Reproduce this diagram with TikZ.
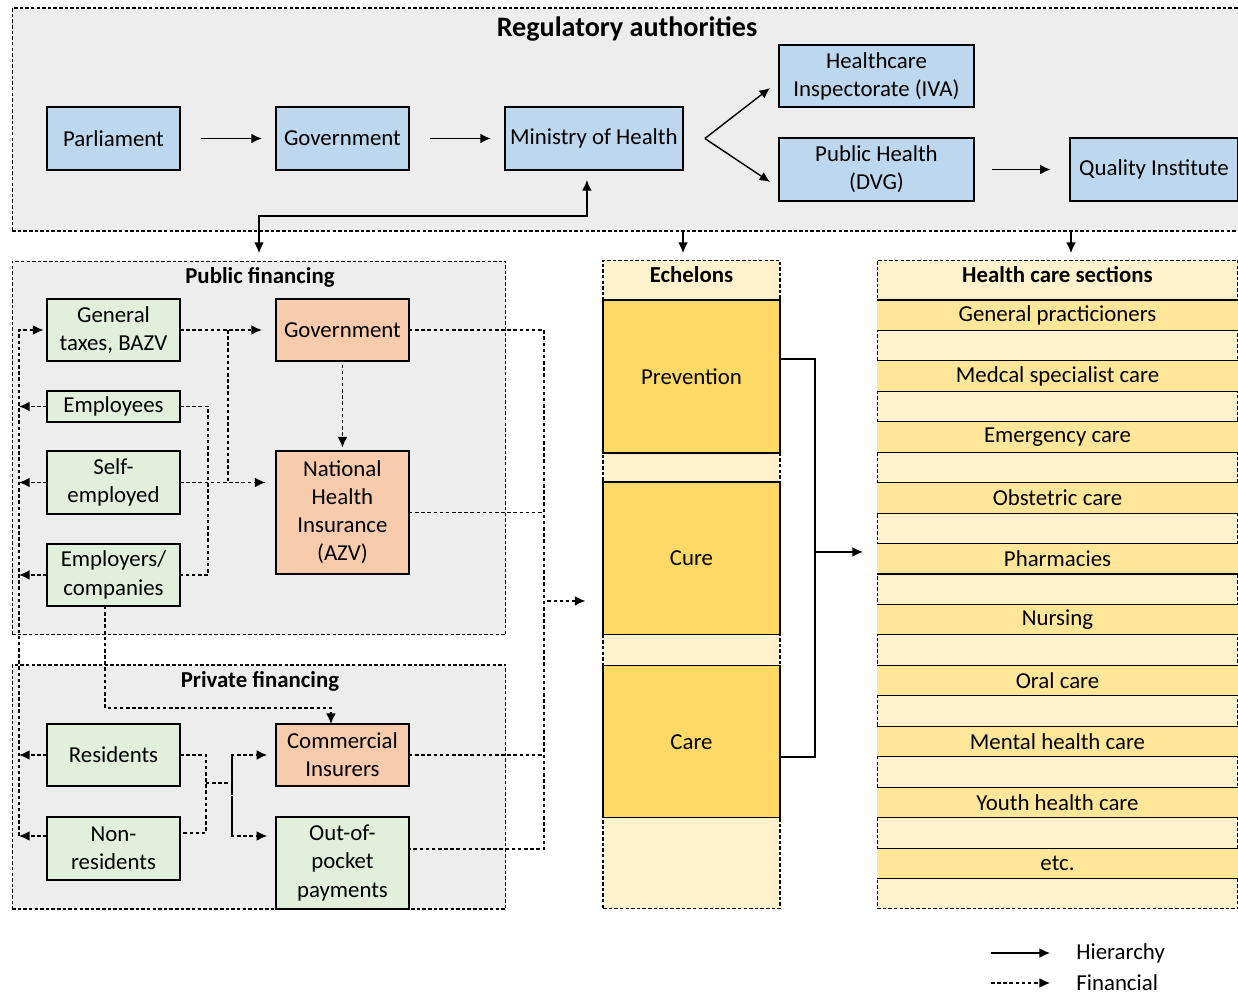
\documentclass[tikz,border=0pt]{standalone}
\usepackage{fontspec}
\setmainfont{Carlito}
\usepackage{xcolor}
\usepackage{tikz}
\usetikzlibrary{arrows.meta, positioning, calc}
\definecolor{regblue}{RGB}{189,215,238}
\definecolor{fundgreen}{RGB}{226,239,218}
\definecolor{payorange}{RGB}{248,203,173}
\definecolor{panelgray}{RGB}{237,237,237}
\definecolor{lightyellow}{RGB}{255,242,204}
\definecolor{darkyellow}{RGB}{255,217,102}
\definecolor{rowyellow}{RGB}{255,230,153}

\begin{document}
\begin{tikzpicture}[
    x=0.02cm, y=-0.02cm,
    font=\fontsize{13}{16}\selectfont,
    box/.style={rectangle, draw, line width=1.4pt, inner sep=0pt, outer sep=0pt, align=center, minimum width=2.66cm, minimum height=1.26cm, fill=regblue},
    panel/.style={rectangle, draw, dash pattern=on 2pt off 1.2pt, line width=0.6pt, inner sep=0pt, outer sep=0pt, fill=panelgray},
    band/.style={rectangle, draw, line width=0.6pt, inner sep=0pt, outer sep=0pt, minimum width=3.54cm, minimum height=3.06cm, fill=darkyellow},
    stripe/.style={rectangle, inner sep=0pt, outer sep=0pt, minimum width=7.22cm, minimum height=0.609cm},
    heading/.style={font=\fontsize{13}{16}\selectfont\bfseries},
    link/.style={line width=0.8pt},
    arrow/.style={link, ->, >={Latex[length=6pt, width=5.5pt]}},
    money/.style={line width=0.75pt, dash pattern=on 2pt off 1.5pt, >={Latex[length=6pt, width=5.5pt]}}
]
    \useasboundingbox (0,0) rectangle (1238,996);

    % Regulatory authorities
    \node[panel, minimum width=24.76cm, minimum height=4.46cm] (reg) at (631,119.5) {};
    \node[heading, font=\fontsize{16}{19}\selectfont\bfseries] (regtitle) at (627,29) {Regulatory authorities};
    \node[box] (parl) at (113.5,138.5) {Parliament};
    \node[box, right=1.92cm of parl] (gov) {Government};
    \node[box, right=1.92cm of gov, minimum width=3.56cm] (moh) {Ministry of Health};
    \node[box, minimum width=3.9cm, minimum height=1.24cm] (iva) at (876.5,76) {Healthcare\\Inspectorate (IVA)};
    \node[box, minimum width=3.9cm] (dvg) at (876.5,169.5) {Public Health\\(DVG)};
    \node[box, minimum width=3.36cm] (qi) at (1154,169.5) {Quality Institute};

    % Public financing
    \node[panel, minimum width=9.88cm, minimum height=7.48cm] (pubfin) at (259,448) {};
    \node[heading] (pubtitle) at (260,277) {Public financing};
    \node[box, fill=fundgreen, minimum height=1.24cm] (tax) at (113.5,330) {General\\taxes, BAZV};
    \node[box, fill=fundgreen, minimum height=0.62cm, below=0.6cm of tax] (empl) {Employees};
    \node[box, fill=fundgreen, below=0.58cm of empl] (self) {Self-\\employed};
    \node[box, fill=fundgreen, minimum height=1.24cm, below=0.6cm of self] (empr) {Employers/\\companies};
    \node[box, fill=payorange, minimum height=1.24cm, right=1.92cm of tax] (pgov) {Government};
    \node[box, fill=payorange, minimum height=2.46cm, below=1.8cm of pgov] (azv) {National\\Health\\Insurance\\(AZV)};

    % Private financing
    \node[panel, minimum width=9.88cm, minimum height=4.88cm] (privfin) at (259,787) {};
    \node[heading] (privtitle) at (260,681) {Private financing};
    \node[box, fill=fundgreen, minimum height=1.24cm] (res) at (113.5,755) {Residents};
    \node[box, fill=fundgreen, below=0.62cm of res] (nonres) {Non-\\residents};
    \node[box, fill=payorange, minimum height=1.24cm, right=1.92cm of res] (comm) {Commercial\\Insurers};
    \node[box, fill=fundgreen, minimum height=1.84cm, below=0.62cm of comm] (oop) {Out-of-\\pocket\\payments};

    % Echelons
    \node[panel, fill=lightyellow, minimum width=3.54cm, minimum height=12.98cm] (ech) at (691.5,584.5) {};
    \node[heading] (echtitle) at (691.5,275) {Echelons};
    \node[band] (prev) at (691.5,376.5) {Prevention};
    \node[band, below=0.58cm of prev] (cure) {Cure};
    \node[band, below=0.62cm of cure, minimum height=3.04cm] (care) {Care};

    % Health care sections
    \node[panel, fill=lightyellow, minimum width=7.22cm, minimum height=12.98cm] (sec) at (1057.5,584.5) {};
    \node[heading] (sectitle) at (1057.5,275) {Health care sections};
    \foreach \i/\txt in {1/General practicioners, 2/Medcal specialist care, 3/Emergency care, 4/Obstetric care, 5/Pharmacies, 6/Nursing, 7/Oral care, 8/Mental health care, 9/Youth health care, 10/etc.}{
        \node[stripe, fill=rowyellow] (sec\i) at (1057.5,{254.3+60.9*\i}) {\txt};
        \draw[link, line width=0.6pt] (sec\i.north west) -- (sec\i.north east) (sec\i.south west) -- (sec\i.south east);
    }

    % Hierarchy
    \draw[arrow, shorten <=12pt, shorten >=8pt] (parl) -- (gov);
    \draw[arrow, shorten <=12pt, shorten >=8pt] (gov) -- (moh);
    \draw[arrow] ([xshift=0.44cm]moh.east) -- ([xshift=-0.18cm,yshift=-0.24cm]iva.west);
    \draw[arrow] ([xshift=0.44cm]moh.east) -- ([xshift=-0.18cm,yshift=-0.25cm]dvg.west);
    \draw[arrow, shorten <=10pt, shorten >=11pt] (dvg) -- (qi);
    \draw[arrow, <->] ([yshift=0.16cm]pubfin.north) -- ++(0,0.74cm) -| ([xshift=-0.14cm,yshift=-0.2cm]moh.south);
    \coordinate (echin) at ([xshift=-0.17cm]ech.north);
    \coordinate (secin) at ([xshift=0.27cm]sec.north);
    \draw[arrow, shorten >=4pt] (echin |- reg.south) -- (echin);
    \draw[arrow, shorten >=4pt] (secin |- reg.south) -- (secin);
    \coordinate (echbus) at ([xshift=0.7cm]cure.east);
    \coordinate (prevout) at ([yshift=0.35cm]prev.east);
    \coordinate (careout) at ([yshift=-0.3cm]care.east);
    \coordinate (cureout) at ([yshift=0.13cm]cure.east);
    \draw[link] (prevout) -| (careout -| echbus) -- (careout);
    \draw[arrow, shorten >=8pt] (cureout -| echbus) -- (cureout -| sec.west);

    % Financial flows
    \coordinate (taxjoin) at ($(tax.east)!0.5!(pgov.west)$);
    \draw[money, ->, shorten >=8pt] (tax) -- (pgov);
    \draw[money] (taxjoin) -- (taxjoin |- self.east);
    \draw[money, ->, shorten >=6pt] (self.east) -- (self.east -| azv.west);
    \draw[money] (empl.east) -- ++(0.56cm,0) |- (empr.east);
    \draw[money, ->, shorten <=2pt, shorten >=2pt] (pgov) -- (azv);

    \coordinate (collect) at ([xshift=-0.56cm]tax.west);
    \coordinate (nrleft) at ([yshift=0.25cm]nonres.west);
    \draw[money, ->, shorten >=2pt] (nrleft -| collect) -- (collect) -- (tax);
    \foreach \n in {empl, self, empr, res}
        \draw[money, ->] (\n.west) -- (\n.west -| collect);
    \draw[money, ->] (nrleft) -- (nrleft -| collect);

    \coordinate (spend) at ([xshift=2.7cm]pgov.east);
    \coordinate (oopout) at ([yshift=0.28cm]oop.east);
    \draw[money] (pgov.east) -| (oopout -| spend) -- (oopout);
    \draw[money] (azv.east) -- (azv.east -| spend);
    \draw[money] (comm.east) -- (comm.east -| spend);
    \coordinate (echfund) at ([yshift=-0.85cm]cure.west);
    \draw[money, ->, shorten <=2pt, shorten >=10pt] (echfund -| spend) -- (echfund);

    \coordinate (emprout) at ([xshift=-0.17cm]empr.south);
    \coordinate (commin) at ([xshift=-0.23cm]comm.north);
    \draw[money, ->] (emprout) -- ++(0,-2.04cm) -| (commin);

    \coordinate (pjoin) at ([xshift=0.52cm]res.east);
    \coordinate (nrright) at ([yshift=0.31cm]nonres.east);
    \coordinate (psplit) at ([xshift=-0.88cm]comm.west);
    \coordinate (oopin) at ([yshift=0.54cm]oop.west);
    \coordinate (pmid) at ($(pjoin)!0.36!(pjoin |- nrright)$);
    \draw[money] (res.east) -| (pjoin |- nrright) -- (nrright);
    \draw[money] (pmid) -- (pmid -| psplit);
    \draw[money, ->, shorten >=5pt] (psplit |- oopin) -- (psplit) -- (comm.west);
    \draw[money, ->, shorten >=5pt] (psplit) -- (psplit |- oopin) -- (oopin);

    % Legend
    \node[anchor=west, inner sep=0pt] (lhier) at (1076,953) {Hierarchy};
    \node[anchor=west, inner sep=0pt] (lfin) at (1076,983) {Financial};
    \draw[arrow] ([xshift=-1.7cm]lhier.west) -- ([xshift=-0.52cm]lhier.west);
    \draw[money, ->] ([xshift=-1.7cm]lfin.west) -- ([xshift=-0.52cm]lfin.west);

\end{tikzpicture}
\end{document}
